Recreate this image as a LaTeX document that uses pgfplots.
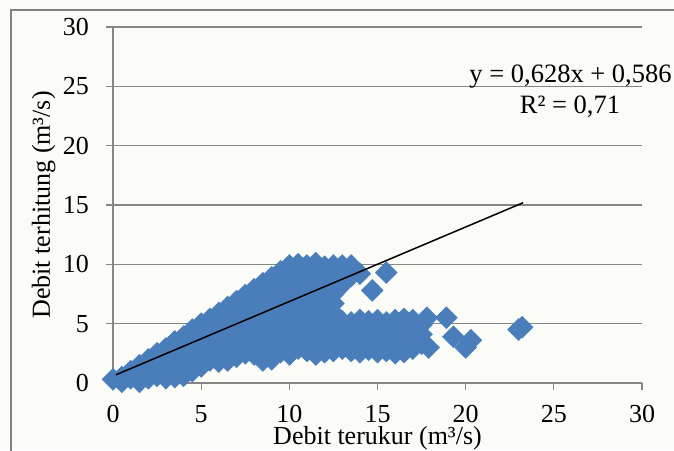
\documentclass[border=0pt]{standalone}
\usepackage{pgfplots}
\pgfplotsset{compat=1.18}
\usepackage{fontspec}
\setmainfont{Liberation Serif}

\definecolor{bgcol}{RGB}{251,251,248}
\definecolor{framecol}{RGB}{130,130,130}
\definecolor{gridcol}{RGB}{134,134,134}
\definecolor{ptcol}{RGB}{74,126,187}

\begin{document}
\begin{tikzpicture}[x=1pt,y=1pt]
\useasboundingbox (0,0) rectangle (674,450);
\fill[bgcol] (0,0) rectangle (674,450);
\draw[framecol, line width=2pt] (10.5,-10) -- (10.5,439.5) -- (700,439.5);
\begin{axis}[
  at={(113pt,67pt)}, anchor=south west,
  scale only axis, width=529pt, height=356pt,
  xmin=0, xmax=30, ymin=0, ymax=30,
  xtick={0,5,...,30}, ytick={0,5,...,30},
  axis x line*=bottom, axis y line*=left,
  tick align=outside, major tick length=7pt,
  ymajorgrids,
  grid style={gridcol, line width=1.2pt},
  axis line style={gridcol, line width=1.2pt},
  tick style={gridcol, line width=1.2pt},
  /pgf/number format/assume math mode=true,
  ticklabel style={font=\fontsize{26}{30}\selectfont, text=black, inner sep=0pt},
  xticklabel style={yshift=-15.5pt},
  yticklabel style={xshift=-17pt},
  label style={font=\fontsize{26}{30}\selectfont, inner sep=0pt},
  xlabel={Debit terukur (m³/s)},
  ylabel={Debit terhitung (m³/s)},
  xlabel style={at={(rel axis cs:0.5,0)}, anchor=base, yshift=-61.5pt},
  ylabel style={at={(rel axis cs:0,0.5)}, anchor=base, yshift=63pt},
  clip=false, clip mode=individual,
]
% measured vs. computed discharge
\addplot[only marks, mark=square*, mark size=7.8pt,
  mark options={rotate=45, fill=ptcol, draw=ptcol, line width=0.3pt}]
  table {
x y
0 0.3
0.5 0.1
0.5 0.5
1.0 0.4
1.0 1.0
1.5 0.1
1.5 0.8
1.5 1.5
2.0 0.4
2.0 1.2
2.0 2.0
2.5 0.6
2.5 1.4
2.5 2.2
2.5 2.5
3.0 0.4
3.0 1.2
3.0 2.0
3.0 2.9
3.5 0.5
3.5 1.3
3.5 2.1
3.5 2.9
3.5 3.5
4.0 0.6
4.0 1.4
4.0 2.2
4.0 3.0
4.0 3.9
4.5 1.0
4.5 1.8
4.5 2.6
4.5 3.4
4.5 4.2
4.5 4.5
5.0 1.4
5.0 2.2
5.0 3.0
5.0 3.8
5.0 4.6
5.0 5.0
5.5 1.9
5.5 2.7
5.5 3.5
5.5 4.3
5.5 5.1
5.5 5.4
6.0 1.8
6.0 2.6
6.0 3.4
6.0 4.2
6.0 5.0
6.0 5.9
6.5 1.9
6.5 2.7
6.5 3.5
6.5 4.3
6.5 5.1
6.5 5.9
6.5 6.4
7.0 2.2
7.0 3.0
7.0 3.8
7.0 4.6
7.0 5.4
7.0 6.2
7.0 6.9
7.5 2.5
7.5 3.3
7.5 4.1
7.5 4.9
7.5 5.7
7.5 6.5
7.5 7.4
8.0 2.4
8.0 3.2
8.0 4.0
8.0 4.8
8.0 5.6
8.0 6.4
8.0 7.2
8.0 7.9
8.5 1.9
8.5 2.7
8.5 3.5
8.5 4.3
8.5 5.1
8.5 5.9
8.5 6.7
8.5 7.5
8.5 8.4
9.0 2.0
9.0 2.8
9.0 3.6
9.0 4.4
9.0 5.2
9.0 6.0
9.0 6.8
9.0 7.6
9.0 8.4
9.0 8.9
9.5 2.6
9.5 3.4
9.5 4.2
9.5 5.0
9.5 5.8
9.5 6.6
9.5 7.4
9.5 8.2
9.5 9.0
9.5 9.4
10.0 2.4
10.0 3.2
10.0 4.0
10.0 4.8
10.0 5.6
10.0 6.4
10.0 7.2
10.0 8.0
10.0 8.8
10.0 9.6
10.0 9.9
10.5 2.9
10.5 3.6
10.5 4.4
10.5 5.2
10.5 6.0
10.5 6.8
10.5 7.6
10.5 8.4
10.5 9.2
10.5 10.0
11.0 2.7
11.0 3.5
11.0 4.3
11.0 5.1
11.0 5.9
11.0 6.7
11.0 7.5
11.0 8.3
11.0 9.1
11.0 9.9
11.5 2.4
11.5 3.2
11.5 4.0
11.5 4.8
11.5 5.6
11.5 6.4
11.5 7.2
11.5 8.0
11.5 8.8
11.5 9.6
11.5 10.1
12.0 2.6
12.0 3.4
12.0 4.2
12.0 5.0
12.0 5.8
12.0 6.6
12.0 7.4
12.0 8.2
12.0 9.0
12.0 9.8
12.5 2.7
12.5 3.5
12.5 4.3
12.5 5.1
12.5 5.9
12.5 6.7
12.5 7.5
12.5 8.3
12.5 9.1
12.5 9.9
13.0 2.9
13.0 3.7
13.0 4.5
13.0 5.2
13.0 8.3
13.0 9.1
13.0 9.9
13.5 2.7
13.5 3.5
13.5 4.3
13.5 5.1
13.5 9.0
13.5 9.9
14.0 2.6
14.0 3.4
14.0 4.2
14.0 5.0
14.0 5.3
14.0 9.2
14.5 2.8
14.5 3.6
14.5 4.4
14.5 5.2
15.0 2.6
15.0 3.4
15.0 4.2
15.0 5.0
15.0 5.3
15.5 2.7
15.5 3.5
15.5 4.3
15.5 5.1
16.0 2.5
16.0 3.3
16.0 4.6
16.0 5.3
16.5 2.6
16.5 3.4
16.5 4.2
16.5 5.0
16.5 5.4
17.0 2.9
17.0 3.7
17.0 4.5
17.0 5.3
17.5 3.3
17.5 4.1
17.5 4.9
17.8 5.5
17.9 3.0
14.7 7.8
15.5 9.3
18.9 5.5
19.3 3.9
20.3 3.6
20.0 3.0
23.0 4.5
23.2 4.7
};
% linear trend line
\addplot[black, line width=1.5pt] coordinates {(0.17,0.693) (23.26,15.193)};
\end{axis}
\node[anchor=base, font=\fontsize{26.5}{30}\selectfont] at (570.5,367) {y = 0,628x + 0,586};
\node[anchor=base, font=\fontsize{26.5}{30}\selectfont] at (570,336) {R² = 0,71};
\end{tikzpicture}
\end{document}
